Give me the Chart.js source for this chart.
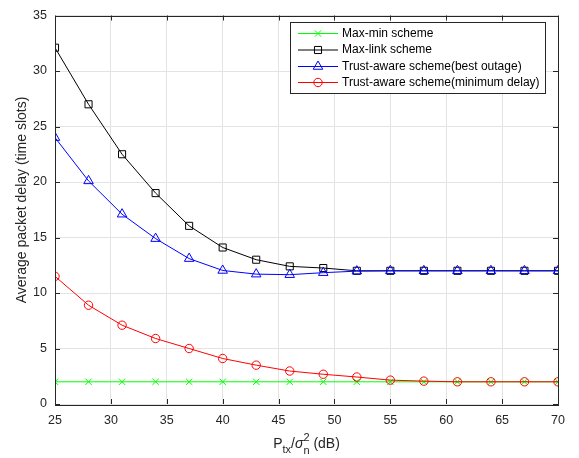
<!DOCTYPE html>
<html>
<head>
<meta charset="utf-8">
<script src="https://cdn.jsdelivr.net/npm/chart.js@4"></script>
<style>
  html, body { margin: 0; padding: 0; background: #fff; }
  #wrap { width: 579px; height: 458px; }
</style>
</head>
<body>
<div id="wrap"><canvas id="delayChart" width="579" height="458"></canvas></div>
<script>
// data
const snr = [25, 28, 31, 34, 37, 40, 43, 46, 49, 52, 55, 58, 61, 64, 67, 70];
const maxMin = [2, 2, 2, 2, 2, 2, 2, 2, 2, 2, 2, 2, 2, 2, 2, 2];
const maxLink = [32.1, 27.0, 22.5, 19.0, 16.05, 14.1, 13.0, 12.4, 12.25, 12.0, 12.0, 12.0, 12.0, 12.0, 12.0, 12.0];
const bestOutage = [24.0, 20.1, 17.1, 14.9, 13.1, 12.03, 11.7, 11.65, 11.83, 11.97, 12.0, 12.0, 12.0, 12.0, 12.0, 12.0];
const minDelay = [11.5, 8.9, 7.1, 5.9, 5.0, 4.1, 3.5, 2.97, 2.68, 2.43, 2.15, 2.06, 2.0, 2.0, 2.0, 2.0];
const xTicks = [25, 30, 35, 40, 45, 50, 55, 60, 65, 70];
const yTicks = [0, 5, 10, 15, 20, 25, 30, 35];
const seriesNames = ["Max-min scheme", "Max-link scheme", "Trust-aware scheme(best outage)", "Trust-aware scheme(minimum delay)"];

const axisColor = "#262626";
const font = "'Liberation Sans', Arial, sans-serif";

function pts(ys) {
    return snr.map((x, i) => ({ x: x, y: ys[i] }));
}

function makeSet(label, ys, color, style, radius, order) {
    return {
        label: label,
        data: pts(ys),
        borderColor: color,
        backgroundColor: color,
        borderWidth: 1,
        pointStyle: style,
        pointRadius: radius,
        pointBorderColor: color,
        pointBackgroundColor: "rgba(0,0,0,0)",
        pointBorderWidth: 1,
        tension: 0,
        order: order
    };
}

// box, inward ticks, axis titles and the legend
const matlabLook = {
    id: "matlabLook",
    afterDraw(chart) {
        const ctx = chart.ctx;
        const a = chart.chartArea;
        const xs = chart.scales.x, ys = chart.scales.y;
        ctx.save();
        ctx.strokeStyle = axisColor;
        ctx.lineWidth = 1;
        ctx.strokeRect(Math.round(a.left) + 0.5, Math.round(a.top) + 0.5, Math.round(a.right - a.left), Math.round(a.bottom - a.top));
        ctx.beginPath();
        xTicks.forEach(v => {
            const px = Math.round(xs.getPixelForValue(v)) + 0.5;
            ctx.moveTo(px, a.bottom); ctx.lineTo(px, a.bottom - 5);
            ctx.moveTo(px, a.top); ctx.lineTo(px, a.top + 5);
        });
        yTicks.forEach(v => {
            const py = Math.round(ys.getPixelForValue(v)) + 0.5;
            ctx.moveTo(a.left, py); ctx.lineTo(a.left + 5, py);
            ctx.moveTo(a.right, py); ctx.lineTo(a.right - 5, py);
        });
        ctx.stroke();

        // y title
        ctx.fillStyle = axisColor;
        ctx.font = "14px " + font;
        ctx.textAlign = "center";
        ctx.textBaseline = "middle";
        ctx.save();
        ctx.translate(22, 200);
        ctx.rotate(-Math.PI / 2);
        ctx.fillText("Average packet delay (time slots)", 0, 0);
        ctx.restore();

        // x title: P_tx / sigma_n^2 (dB)
        const parts = [
            { t: "P", f: "14px " + font, dy: 0 },
            { t: "tx", f: "11px " + font, dy: 5 },
            { t: "/", f: "14px " + font, dy: 0 },
            { t: "σ", f: "italic 14px " + font, dy: 0 },
            { t: "n", f: "11px " + font, dy: 6, sub: true },
            { t: "2", f: "11px " + font, dy: -7, sup: true },
            { t: " (dB)", f: "14px " + font, dy: 0 }
        ];
        ctx.textAlign = "left";
        ctx.textBaseline = "alphabetic";
        let total = 0, subW = 0;
        parts.forEach(p => {
            ctx.font = p.f;
            p.w = ctx.measureText(p.t).width;
        });
        parts.forEach(p => {
            if (p.sup) { total += Math.max(p.w, subW) - subW; }
            else { total += p.w; }
            if (p.sub) subW = p.w;
        });
        let x = (a.left + a.right) / 2 - total / 2;
        const base = 448;
        let subStart = 0;
        parts.forEach(p => {
            ctx.font = p.f;
            if (p.sub) { subStart = x; ctx.fillText(p.t, x, base + p.dy); x += p.w; }
            else if (p.sup) { ctx.fillText(p.t, subStart, base + p.dy); x = Math.max(x, subStart + p.w); }
            else { ctx.fillText(p.t, x, base + p.dy); x += p.w; }
        });

        // legend
        const lx = 290.5, ly = 22.5, lw = 255, lh = 71;
        ctx.fillStyle = "#fff";
        ctx.fillRect(lx, ly, lw, lh);
        ctx.strokeStyle = axisColor;
        ctx.strokeRect(lx, ly, lw, lh);
        const rows = [33.5, 50, 66.5, 82.5];
        chart.data.datasets.forEach((ds, r) => {
            const y = rows[r];
            ctx.strokeStyle = ds.borderColor;
            ctx.lineWidth = 1;
            ctx.beginPath();
            ctx.moveTo(298, y); ctx.lineTo(338, y);
            ctx.stroke();
            ctx.fillStyle = "rgba(0,0,0,0)";
            Chart.helpers.drawPoint(ctx, {
                pointStyle: ds.pointStyle, radius: ds.pointRadius, rotation: 0, borderWidth: 1
            }, 318, y);
            ctx.fillStyle = "#000";
            ctx.font = "12px " + font;
            ctx.textBaseline = "middle";
            ctx.fillText(ds.label, 342, y);
        });
        ctx.restore();
    }
};

new Chart(document.getElementById("delayChart"), {
    type: "line",
    data: {
        datasets: [
            makeSet(seriesNames[0], maxMin, "#00ff00", "crossRot", 4.5, 4),
            makeSet(seriesNames[1], maxLink, "#000000", "rect", 5, 3),
            makeSet(seriesNames[2], bestOutage, "#0000ff", "triangle", 5.5, 2),
            makeSet(seriesNames[3], minDelay, "#ff0000", "circle", 4.2, 1)
        ]
    },
    options: {
        responsive: false,
        animation: false,
        devicePixelRatio: 1,
        layout: { padding: { left: 0, top: 10, right: 21, bottom: 0 } },
        plugins: {
            legend: { display: false },
            tooltip: { enabled: false }
        },
        scales: {
            x: {
                type: "linear",
                min: 25, max: 70,
                afterBuildTicks: s => { s.ticks = xTicks.map(v => ({ value: v })); },
                afterFit: s => { s.height = 54; },
                grid: { color: "#e3e3e3", drawTicks: false },
                border: { display: false },
                ticks: { color: axisColor, padding: 9, font: { family: font, size: 12.5 }, maxRotation: 0 }
            },
            y: {
                min: 0, max: 35,
                afterBuildTicks: s => { s.ticks = yTicks.map(v => ({ value: v })); },
                afterFit: s => { s.width = 55; },
                grid: { color: "#e3e3e3", drawTicks: false },
                border: { display: false },
                ticks: { color: axisColor, padding: 8, font: { family: font, size: 12.5 } }
            }
        }
    },
    plugins: [matlabLook]
});
</script>
</body>
</html>
